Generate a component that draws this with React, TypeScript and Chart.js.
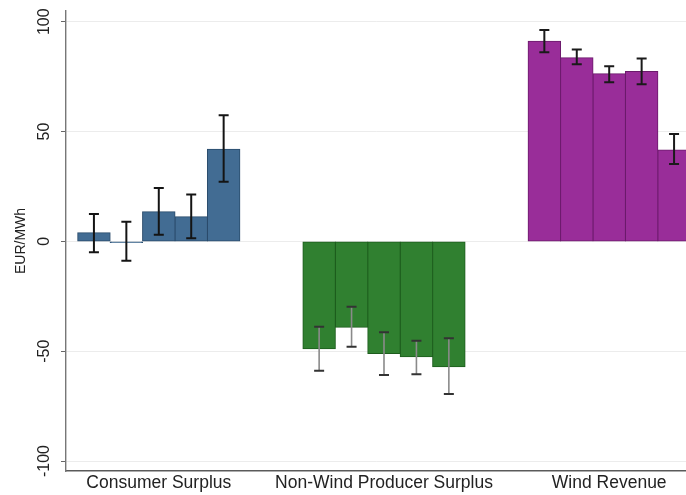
import React, { useEffect, useRef } from "react";
import { Chart, registerables } from "chart.js";

Chart.register(...registerables);

const categories = ["Consumer Surplus", "Non-Wind Producer Surplus", "Wind Revenue"];
const yTicks = [-100, -50, 0, 50, 100];

// five bars per category
const consumerSurplus = [3.9, -0.5, 13.5, 11.2, 41.9];
const consumerLow = [-5.0, -8.8, 3.0, 1.4, 27.2];
const consumerHigh = [12.5, 8.9, 24.3, 21.4, 57.4];

const producerSurplus = [-48.9, -39.1, -51.0, -52.5, -57.1];
const producerLow = [-58.9, -48.0, -60.8, -60.5, -69.5];
const producerHigh = [-38.9, -29.8, -41.4, -45.2, -44.1];

const windRevenue = [91.1, 83.6, 76.3, 77.4, 41.6];
const windLow = [86.1, 80.6, 72.5, 71.5, 35.2];
const windHigh = [96.2, 87.4, 79.8, 83.3, 48.9];

const fillColors = ["#426c93", "#308030", "#992d99"];
const edgeColors = ["#2a4b6b", "#1d5c1d", "#6b1a6b"];
const whiskerColors = ["#141414", "#8a8a8a", "#1a1a1a"];
const capColors = ["#141414", "#333333", "#1a1a1a"];

const FONT = "'Liberation Sans', Arial, sans-serif";

export default function App() {
  const ref = useRef<HTMLCanvasElement>(null);
  useEffect(() => {
    document.body.style.margin = "0";
    const canvas = ref.current;
    if (!canvas) return;
    const values = [consumerSurplus, producerSurplus, windRevenue];
    const lows = [consumerLow, producerLow, windLow];
    const highs = [consumerHigh, producerHigh, windHigh];
    const nBars = consumerSurplus.length;
    const datasets = [] as any[];
    for (let b = 0; b < nBars; b++) {
      datasets.push({
        label: "Bar " + (b + 1),
        data: categories.map((_, c) => ({ x: c, y: values[c][b] })),
        backgroundColor: fillColors,
        borderColor: edgeColors,
        borderWidth: 1,
        borderSkipped: false,
        inflateAmount: 0.5,
        categoryPercentage: 0.72,
        barPercentage: 1.0,
      });
    }

    const errorBars = {
      id: "errorBars",
      afterDatasetsDraw(chart: any) {
        const ctx = chart.ctx;
        const ys = chart.scales.y;
        ctx.save();
        for (let b = 0; b < nBars; b++) {
          const meta = chart.getDatasetMeta(b);
          meta.data.forEach((el: any, c: number) => {
            const x = el.x;
            const yl = ys.getPixelForValue(lows[c][b]);
            const yh = ys.getPixelForValue(highs[c][b]);
            ctx.strokeStyle = whiskerColors[c];
            ctx.lineWidth = c === 1 ? 1.6 : 2;
            ctx.beginPath();
            ctx.moveTo(x, yl);
            ctx.lineTo(x, yh);
            ctx.stroke();
            ctx.strokeStyle = capColors[c];
            ctx.lineWidth = 2;
            ctx.beginPath();
            ctx.moveTo(x - 5, yl);
            ctx.lineTo(x + 5, yl);
            ctx.moveTo(x - 5, yh);
            ctx.lineTo(x + 5, yh);
            ctx.stroke();
          });
        }
        ctx.restore();
      },
    };

    const chart = new Chart(canvas, {
      type: "bar",
      data: { datasets },
      plugins: [errorBars],
      options: {
        animation: false,
        responsive: false,
        layout: { padding: { top: 11, left: 0, right: 0, bottom: 0 } },
        plugins: { legend: { display: false }, tooltip: { enabled: false } },
        scales: {
          x: {
            type: "linear",
            min: -0.412,
            max: 2.341,
            bounds: "data",
            offset: false,
            grid: { display: false, drawTicks: false },
            border: { display: true, color: "#5a5a5a", width: 1.4 },
            afterBuildTicks: (scale: any) => {
              scale.ticks = categories.map((_, i) => ({ value: i }));
            },
            afterFit: (scale: any) => {
              scale.height = 24;
            },
            ticks: {
              autoSkip: false,
              maxRotation: 0,
              minRotation: 0,
              padding: 2,
              color: "#222",
              font: { family: FONT, size: 17.5 },
              callback: (v: any) => categories[Math.round(Number(v))] ?? "",
            },
          },
          y: {
            min: -104.55,
            max: 104.9,
            afterBuildTicks: (scale: any) => {
              scale.ticks = yTicks.map((v) => ({ value: v }));
            },
            afterFit: (scale: any) => {
              scale.width = 66;
            },
            grid: {
              color: "#ececec",
              tickColor: "#666",
              tickLength: 5,
              lineWidth: 1,
            },
            border: { display: true, color: "#777", width: 1.4 },
            title: {
              display: true,
              text: "EUR/MWh",
              color: "#222",
              font: { family: FONT, size: 14 },
              padding: { top: 12.6, bottom: 0 },
            },
            ticks: {
              minRotation: 90,
              maxRotation: 90,
              crossAlign: "center",
              padding: 0,
              color: "#222",
              font: { family: FONT, size: 16 },
            },
          },
        },
      } as any,
    });
    return () => chart.destroy();
  }, []);
  return (
    <div style={{ position: "absolute", left: 0, top: 0, width: 686, height: 495 }}>
      <canvas ref={ref} width={686} height={495} />
    </div>
  );
}
